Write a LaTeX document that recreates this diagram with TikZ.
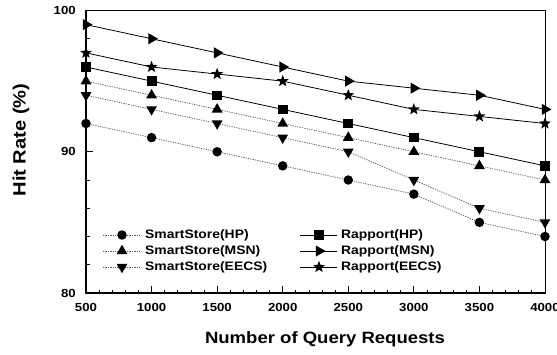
\documentclass[tikz,border=0pt]{standalone}
\usepackage{fontspec}
\setmainfont{Liberation Sans}[FakeStretch=1.13]
\usetikzlibrary{shapes.geometric}
\tikzset{
  mk/.style={fill=black, draw=none, inner sep=0pt},
  mcirc/.style={mk, circle, minimum size=9.5pt},
  mup/.style={mk, regular polygon, regular polygon sides=3, minimum size=12.5pt},
  mdown/.style={mup, shape border rotate=180},
  mright/.style={mup, shape border rotate=-90, minimum size=13pt},
  msq/.style={mk, rectangle, minimum width=10pt, minimum height=9.5pt},
  mstar/.style={mk, star, star points=5, star point ratio=2.4, minimum size=12.5pt},
  dotl/.style={black!65, line width=0.7pt, dash pattern=on 1.3pt off 1.1pt},
  soll/.style={black, line width=0.8pt},
  ticklab/.style={font=\bfseries\fontsize{11.7}{12}\selectfont, inner sep=0pt},
  leglab/.style={font=\bfseries\fontsize{12.3}{13}\selectfont, anchor=west, inner sep=0pt},
  thinax/.style={line width=0.8pt},
  thickax/.style={line width=1.6pt},
  tickl/.style={line width=0.8pt},
}
\begin{document}
\begin{tikzpicture}[x=1pt,y=-1pt]
\useasboundingbox (0,0) rectangle (557,354);
\begin{scope}[shift={(86,1423)}, x=65.571pt, y=14.125pt]
  % data coordinates
  \foreach \v [count=\i from 0] in {92,91,90,89,88,87,85,84} \coordinate (a\i) at (\i,\v);
  \foreach \v [count=\i from 0] in {95,94,93,92,91,90,89,88} \coordinate (b\i) at (\i,\v);
  \foreach \v [count=\i from 0] in {94,93,92,91,90,88,86,85} \coordinate (c\i) at (\i,\v);
  \foreach \v [count=\i from 0] in {96,95,94,93,92,91,90,89} \coordinate (d\i) at (\i,\v);
  \foreach \v [count=\i from 0] in {99,98,97,96,95,94.5,94,93} \coordinate (e\i) at (\i,\v);
  \foreach \v [count=\i from 0] in {97,96,95.5,95,94,93,92.5,92} \coordinate (f\i) at (\i,\v);
  % frame
  \coordinate (tl) at (0,100); \coordinate (tr) at (7,100);
  \coordinate (bl) at (0,80);  \coordinate (br) at (7,80);
  \draw[thinax] (tl) -- (tr) -- (br);
  % ticks
  \foreach \v in {82,84,86,88,92,94,96,98} \draw[tickl] (0,\v) -- ++(4pt,0);
  \foreach \v in {90} \draw[tickl] (0,\v) -- ++(7pt,0);
  \foreach \k in {1,...,34} \draw[tickl] (\k/5,80) -- ++(0,3.5pt);
  \foreach \k in {1,...,6} \draw[tickl] (\k,80) -- ++(0,7pt);
  \draw[thickax, line cap=rect] (tl) -- (bl) -- (br);
  % tick labels
  \foreach \v in {80,90,100} \node[ticklab, anchor=east] (yl\v) at ([xshift=-10pt]0,\v) {\v};
  \foreach \lab [count=\i from 0] in {500,1000,1500,2000,2500,3000,3500,4000}
    \node[ticklab] (xl\i) at ([yshift=-14pt]\i,80) {\lab};
  % series lines
  \draw[dotl] (a0) \foreach \i in {1,...,7}{ -- (a\i)};
  \draw[dotl] (b0) \foreach \i in {1,...,7}{ -- (b\i)};
  \draw[dotl] (c0) \foreach \i in {1,...,7}{ -- (c\i)};
  \draw[soll] (d0) \foreach \i in {1,...,7}{ -- (d\i)};
  \draw[soll] (e0) \foreach \i in {1,...,7}{ -- (e\i)};
  \draw[soll] (f0) \foreach \i in {1,...,7}{ -- (f\i)};
  % markers
  \foreach \i in {0,...,7} {
    \node[mcirc] (ma\i) at (a\i) {};
    \node[mup] (mb\i) at (b\i) {};
    \node[mdown] (mc\i) at (c\i) {};
    \node[msq] (md\i) at (d\i) {};
    \node[mright] (me\i) at (e\i) {};
    \node[mstar] (mf\i) at (f\i) {};
  }
\end{scope}
% axis titles
\node[font=\bfseries\fontsize{16.4}{18}\selectfont] (xt) at (325,339) {Number of Query Requests};
\node[rotate=90, font=\bfseries\fontsize{17.8}{19}\selectfont] (yt) at (21,140) {Hit Rate (\%)};
% legend
\foreach \n/\y in {1/235,2/251,3/267} {
  \coordinate (lls\n) at (103,\y); \coordinate (lle\n) at (141,\y); \coordinate (llm\n) at (122,\y);
  \coordinate (rls\n) at (300,\y); \coordinate (rle\n) at (337,\y); \coordinate (rlm\n) at (319,\y);
}
\draw[dotl] (lls1) -- (lle1);
\draw[dotl] (lls2) -- (lle2);
\draw[dotl] (lls3) -- (lle3);
\draw[soll] (rls1) -- (rle1);
\draw[soll] (rls2) -- (rle2);
\draw[soll] (rls3) -- (rle3);
\node[mcirc] (lm1) at (llm1) {};
\node[mup] (lm2) at (llm2) {};
\node[mdown] (lm3) at (llm3) {};
\node[msq] (rm1) at (rlm1) {};
\node[mright] (rm2) at (rlm2) {};
\node[mstar] (rm3) at (rlm3) {};
\node[leglab] (lt1) at (145,235) {SmartStore(HP)};
\node[leglab] (lt2) at (145,251) {SmartStore(MSN)};
\node[leglab] (lt3) at (145,267) {SmartStore(EECS)};
\node[leglab] (rt1) at (341,235) {Rapport(HP)};
\node[leglab] (rt2) at (341,251) {Rapport(MSN)};
\node[leglab] (rt3) at (341,267) {Rapport(EECS)};
\end{tikzpicture}
\end{document}
